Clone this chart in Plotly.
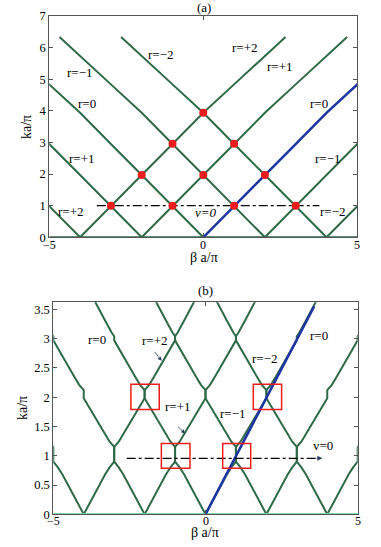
import plotly.graph_objects as go

# ---- panel (a): branches ka(|beta - vertex|)
a_vertex = [-4, -2, 0, 2, 4]
a_dist = [0, 1, 2, 3, 4, 5, 6.67]
a_ka = [0, 1, 1.97, 2.95, 3.94, 4.84, 6.34]
a_dot_x = [-3, -1, 1, 3, -2, 0, 2, -1, 1, 0]
a_dot_y = [1, 1, 1, 1, 1.97, 1.97, 1.97, 2.96, 2.96, 3.94]
a_nu_x = [-3.46, 3.77]
a_nu_y = [1, 1]
a_lab_x = [-4.0, -3.77, -1.37, 1.35, 2.49, 3.76, -3.95, 4.06, -4.3, 4.22]
a_lab_y = [5.21, 4.22, 5.8, 6.01, 5.4, 4.22, 2.5, 2.5, 0.83, 0.83]
a_lab = ["r=\u22121", "r=0", "r=\u22122", "r=+2", "r=+1", "r=0",
         "r=+1", "r=\u22121", "r=+2", "r=\u22122"]

# ---- panel (b): same branches, with small gaps where they cross
b_vertex = [-4, -2, 0, 2, 4]
b_dist = [0, 0.4, 0.7, 0.85, 0.94, 1, 1, 1.06, 1.15, 1.3, 1.6, 1.75, 1.88,
          1.95, 2, 2, 2.06, 2.15, 2.3, 2.6, 2.8, 2.92, 2.97, 3, 3, 3.08,
          3.3, 3.8]
b_ka = [0, 0.4, 0.68, 0.8, 0.86, 0.9, 1.15, 1.18, 1.24, 1.37, 1.63, 1.76,
        1.87, 1.93, 1.98, 2.12, 2.15, 2.21, 2.34, 2.62, 2.8, 2.9, 2.94,
        2.97, 3.04, 3.1, 3.31, 3.8]
b_blue_x = [0, 3.57]
b_blue_y = [0, 3.55]
b_box_x0 = [-2.45, 1.57, -1.45, 0.565]
b_box_x1 = [-1.52, 2.50, -0.51, 1.485]
b_box_y0 = [1.79, 1.79, 0.785, 0.785]
b_box_y1 = [2.22, 2.22, 1.21, 1.21]
b_nu_x = [-2.59, 3.7]
b_nu_y = [0.956, 0.956]
b_lab_x = [-3.57, -1.66, 1.95, 3.73, -0.89, 0.91, 3.87]
b_lab_y = [2.98, 2.96, 2.66, 3.06, 1.84, 1.72, 1.18]
b_lab = ["r=0", "r=+2", "r=\u22122", "r=0", "r=+1", "r=\u22121", "v=0"]

x_ticks = [-5, 0, 5]
x_tick_text = ["\u22125", "0", "5"]

GREEN = "#2e6a48"
BLUE = "#1d35a0"
RED = "#ee1c1c"
MINT = "#80d4a8"
FONT = "Liberation Serif"

fig = go.Figure()

# (a)
for v in a_vertex:
    for s in (-1, 1):
        if v == 0 and s == 1:
            continue
        fig.add_trace(go.Scatter(x=[v + s * d for d in a_dist], y=a_ka, mode="lines",
                                 line=dict(color=GREEN, width=2), xaxis="x", yaxis="y"))
fig.add_trace(go.Scatter(x=[-5, 5], y=[0, 0], mode="lines",
                         line=dict(color=GREEN, width=2), xaxis="x", yaxis="y"))
fig.add_trace(go.Scatter(x=a_dist, y=a_ka, mode="lines",
                         line=dict(color=BLUE, width=2.5), xaxis="x", yaxis="y"))
fig.add_trace(go.Scatter(x=a_nu_x, y=a_nu_y, mode="lines",
                         line=dict(color="black", width=1.2, dash="dashdot"), xaxis="x", yaxis="y"))
fig.add_trace(go.Scatter(x=a_dot_x, y=a_dot_y, mode="markers",
                         marker=dict(color=RED, size=8, symbol="circle", line=dict(width=0)),
                         xaxis="x", yaxis="y"))

# (b)
for v in b_vertex:
    for s in (-1, 1):
        fig.add_trace(go.Scatter(x=[v + s * d for d in b_dist], y=b_ka, mode="lines",
                                 line=dict(color=GREEN, width=2), xaxis="x2", yaxis="y2"))
fig.add_trace(go.Scatter(x=[-5, 5], y=[0, 0], mode="lines",
                         line=dict(color=MINT, width=2.5), xaxis="x2", yaxis="y2"))
fig.add_trace(go.Scatter(x=b_blue_x, y=b_blue_y, mode="lines",
                         line=dict(color=BLUE, width=2.5), xaxis="x2", yaxis="y2"))
fig.add_trace(go.Scatter(x=b_nu_x, y=b_nu_y, mode="lines",
                         line=dict(color="black", width=1.2, dash="dashdot"), xaxis="x2", yaxis="y2"))

for x0, x1, y0, y1 in zip(b_box_x0, b_box_x1, b_box_y0, b_box_y1):
    fig.add_shape(type="rect", xref="x2", yref="y2", x0=x0, x1=x1, y0=y0, y1=y1,
                  line=dict(color=RED, width=1.5))

ann = []
for x, y, t in zip(a_lab_x, a_lab_y, a_lab):
    ann.append(dict(x=x, y=y, xref="x", yref="y", text=t, showarrow=False))
ann.append(dict(x=0.08, y=0.78, xref="x", yref="y", text="<i>\u03bd=0</i>", showarrow=False))
for x, y, t in zip(b_lab_x, b_lab_y, b_lab):
    ann.append(dict(x=x, y=y, xref="x2", yref="y2", text=t, showarrow=False))
# x tick labels, written just under each axis
for x, t in zip(x_ticks, x_tick_text):
    ann.append(dict(x=x, y=0, xref="x", yref="y", text=t, showarrow=False,
                    yanchor="middle", yshift=-8, font=dict(size=12)))
    ann.append(dict(x=x, y=0, xref="x2", yref="y2", text=t, showarrow=False,
                    yanchor="middle", yshift=-7, font=dict(size=12)))
# small pointer arrows in (b)
ann.append(dict(x=-1.44, y=2.62, ax=-1.71, ay=2.8, xref="x2", yref="y2", axref="x2", ayref="y2",
                text="", showarrow=True, arrowhead=2, arrowsize=1, arrowwidth=0.8))
ann.append(dict(x=-0.67, y=1.38, ax=-0.95, ay=1.52, xref="x2", yref="y2", axref="x2", ayref="y2",
                text="", showarrow=True, arrowhead=2, arrowsize=1, arrowwidth=0.8))
ann.append(dict(x=3.84, y=0.956, ax=3.6, ay=0.956, xref="x2", yref="y2", axref="x2", ayref="y2",
                text="", showarrow=True, arrowhead=2, arrowsize=1, arrowwidth=1))
# titles and axis labels
paper = dict(xref="paper", yref="paper", showarrow=False, xanchor="center", yanchor="middle")
ann.append(dict(x=204 / 381, y=1 - 8 / 547, text="(a)", font=dict(size=13), **paper))
ann.append(dict(x=205 / 381, y=1 - 290 / 547, text="(b)", font=dict(size=13), **paper))
ann.append(dict(x=204 / 381, y=1 - 257.5 / 547, text="\u03b2 a/\u03c0", font=dict(size=14), **paper))
ann.append(dict(x=205 / 381, y=1 - 532 / 547, text="\u03b2 a/\u03c0", font=dict(size=14), **paper))
ann.append(dict(x=27 / 381, y=1 - 127 / 547, text="ka/\u03c0", textangle=-90,
                font=dict(size=14), **paper))
ann.append(dict(x=22 / 381, y=1 - 408 / 547, text="ka/\u03c0", textangle=-90,
                font=dict(size=14), **paper))

axis_style = dict(showgrid=False, zeroline=False, showline=True, mirror="ticks",
                  linecolor="#555", linewidth=1, ticks="inside", ticklen=4,
                  tickcolor="#555", tickfont=dict(size=12.5, color="black"), automargin=False)

fig.update_layout(
    width=381, height=547,
    margin=dict(l=0, r=0, t=0, b=0, pad=0, autoexpand=False),
    paper_bgcolor="white", plot_bgcolor="white",
    showlegend=False,
    font=dict(family=FONT, size=13, color="black"),
    annotations=ann,
    xaxis=dict(domain=[49.3 / 381, 357.3 / 381], range=[-5, 5], tickvals=x_ticks,
               showticklabels=False, anchor="y", **axis_style),
    yaxis=dict(domain=[1 - 237.3 / 547, 1 - 16.1 / 547], range=[0, 7], dtick=1,
               anchor="x", **axis_style),
    xaxis2=dict(domain=[53.3 / 381, 357.7 / 381], range=[-5, 5], tickvals=x_ticks,
                showticklabels=False, anchor="y2", **axis_style),
    yaxis2=dict(domain=[1 - 514.3 / 547, 1 - 302.3 / 547], range=[0, 3.62], dtick=0.5,
                anchor="x2", **axis_style),
)
fig.update_traces(hoverinfo="skip")

# the page's default body margin would push the figure 8px in
fig.write_html("out.html", config={"displayModeBar": False},
               post_script="document.body.style.margin='0';")
